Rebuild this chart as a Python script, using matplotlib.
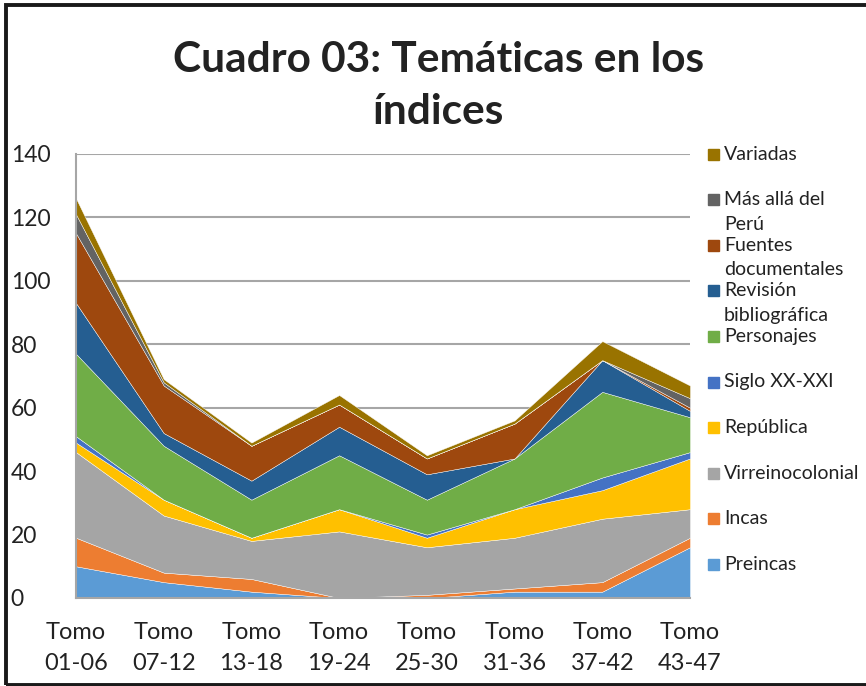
import numpy as np
import matplotlib.pyplot as plt
from matplotlib.patches import Rectangle

# datos del cuadro
tomos = ['Tomo\n01-06', 'Tomo\n07-12', 'Tomo\n13-18', 'Tomo\n19-24',
         'Tomo\n25-30', 'Tomo\n31-36', 'Tomo\n37-42', 'Tomo\n43-47']
preincas = [10, 5, 2, 0, 0, 2, 2, 16]
incas = [9, 3, 4, 0, 1, 1, 3, 3]
virreinocolonial = [27, 18, 12, 21, 15, 16, 20, 9]
republica = [3, 5, 1, 7, 3, 9, 9, 16]
siglo = [2, 0, 0, 0, 1, 0, 4, 2]
personajes = [26, 17, 12, 17, 11, 16, 27, 11]
revision = [16, 4, 6, 9, 8, 0, 10, 2]
fuentes = [22, 15, 11, 7, 5, 11, 0, 1]
mas_alla = [6, 1, 0, 0, 0, 0, 0, 3]
variadas = [5, 1, 1, 3, 1, 1, 6, 4]

series = [preincas, incas, virreinocolonial, republica, siglo,
          personajes, revision, fuentes, mas_alla, variadas]
nombres = ['Preincas', 'Incas', 'Virreinocolonial', 'República', 'Siglo XX-XXI',
           'Personajes', 'Revisión\nbibliográfica', 'Fuentes\ndocumentales',
           'Más allá del\nPerú', 'Variadas']
colores = ['#5B9BD5', '#ED7D31', '#A5A5A5', '#FFC000', '#4472C4',
           '#70AD47', '#255E91', '#9E480E', '#636363', '#997300']

plt.rcParams['font.family'] = ['Lato', 'DejaVu Sans']

W, H = 866, 686
fig = plt.figure(figsize=(W / 100, H / 100), dpi=100)
ax = fig.add_axes([76 / W, 1 - 598 / H, (690 - 76) / W, (598 - 154) / H])

x = np.arange(len(tomos))
ax.stackplot(x, *series, colors=colores, edgecolor='white', linewidth=0.3)

ax.set_xlim(0, 7)
ax.set_ylim(0, 140)
ax.set_yticks(range(0, 141, 20))
ax.set_xticks(x)
ax.set_xticklabels(tomos, fontsize=17, linespacing=1.6, color='#222222')
ax.grid(axis='y', color='#A6A6A6', linewidth=1.5)
ax.set_axisbelow(True)
for s in ['top', 'right']:
    ax.spines[s].set_visible(False)
for s in ['left', 'bottom']:
    ax.spines[s].set_color('#A6A6A6')
    ax.spines[s].set_linewidth(1.5)
ax.tick_params(axis='both', length=0)
ax.tick_params(axis='y', labelsize=16.5, pad=47, labelcolor='#222222')
ax.tick_params(axis='x', pad=17)
for lab in ax.get_yticklabels():
    lab.set_ha('left')

# titulo
fig.text(0.506, 1 - 86 / H, 'Cuadro 03: Temáticas en los\níndices',
         ha='center', va='center', fontsize=30.5, fontweight='bold',
         linespacing=1.42, color='#222222')

# leyenda (de arriba hacia abajo)
for i, k in enumerate(range(len(nombres) - 1, -1, -1)):
    yc = 154 + i * 45.6
    fig.patches.append(Rectangle(((708) / W, 1 - (yc + 5.5) / H), 11 / W, 11 / H,
                                 transform=fig.transFigure, color=colores[k]))
    for j, linea in enumerate(nombres[k].split('\n')):
        fig.text(724 / W, 1 - (yc + j * 24.5) / H, linea, fontsize=14,
                 va='center', ha='left', color='#222222')

# marco
fig.patches.append(Rectangle((5.5 / W, 1.5 / H), 2, (684.5 - 4.5) / H,
                             transform=fig.transFigure, fill=False,
                             edgecolor='#1a1a1a', linewidth=2.8, clip_on=False))

fig.savefig('out.png', dpi=100)
